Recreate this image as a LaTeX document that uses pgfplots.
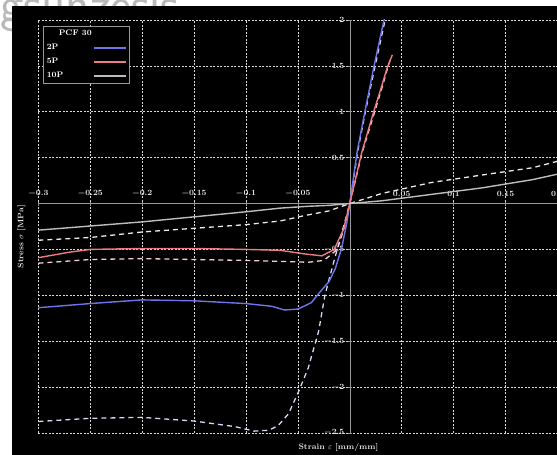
\documentclass[border=0pt]{standalone}
\usepackage{pgfplots}
\pgfplotsset{compat=1.18}
\definecolor{bl}{RGB}{112,116,235}
\definecolor{bld}{RGB}{215,215,245}
\definecolor{rd}{RGB}{238,122,132}
\definecolor{rdd}{RGB}{246,205,208}
\definecolor{gy}{RGB}{185,192,185}
\definecolor{gyd}{RGB}{235,235,235}
\begin{document}
\begin{tikzpicture}[x=1pt,y=1pt]
\useasboundingbox (0,0) rectangle (557,455);
\fill[white] (0,0) rectangle (557,455);
\begin{scope}
\clip (0,0) rectangle (557,455);
\node[anchor=base west, inner sep=0, text=gray!55, font=\sffamily\fontsize{50}{50}\selectfont] at (0,433) {gsunzesis};
\end{scope}
\fill[black] (12,0) rectangle (557,449);
\begin{axis}[
  at={(37,24)}, anchor=south west, scale only axis,
  width=519pt, height=413pt,
  xmin=-0.3, xmax=0.2, ymin=-2.5, ymax=2,
  axis lines=middle,
  xtick={-0.3,-0.25,-0.2,-0.15,-0.1,-0.05,0.05,0.1,0.15,0.2},
  xticklabels={$-0.3$,$-0.25$,$-0.2$,$-0.15$,$-0.1$,$-0.05$,$0.05$,$0.1$,$0.15$,$0.2$},
  ytick={-2.5,-2,-1.5,-1,-0.5,0.5,1,1.5,2},
  yticklabels={$-2.5$,$-2$,$-1.5$,$-1$,$-0.5$,$0.5$,$1$,$1.5$,$2$},
  minor x tick num=4, minor y tick num=4,
  grid=major,
  grid style={white!85!black, line width=0.6pt, dash pattern=on 2pt off 1.5pt},
  axis line style={gray!80, line width=0.6pt, -},
  tick style={gray!85, line width=0.5pt},
  major tick length=4pt, minor tick length=2.5pt,
  ticklabel style={font=\footnotesize\boldmath, text=white!90!black},
  xticklabel style={anchor=south, yshift=5pt},
  xlabel={Strain $\varepsilon$ [mm/mm]},
  ylabel={Stress $\sigma$ [MPa]},
  xlabel style={at={(axis description cs:0.578,-0.036)}, anchor=center, font=\footnotesize\bfseries, text=white!90!black},
  ylabel style={at={(axis description cs:-0.033,0.475)}, anchor=center, rotate=90, font=\footnotesize\bfseries, text=white!90!black},
  legend style={at={(axis description cs:0.008,0.985)}, anchor=north west, fill=black, draw=gray!80, text=white, font=\footnotesize\bfseries, inner sep=2pt, row sep=3pt},
  legend cell align=left,
  legend plot pos=right,
  legend image code/.code={\draw[line width=1.4pt,#1] (0pt,0pt) -- (32pt,0pt);},
  clip=true,
]
\addlegendimage{empty legend}
\addlegendentry{\hspace{12pt}PCF 30}

% grey dashed
\addplot[gyd, line width=1.3pt, dash pattern=on 5pt off 4pt, forget plot] coordinates {
(-0.3,-0.40) (-0.25,-0.37) (-0.2,-0.31) (-0.15,-0.27) (-0.1,-0.23) (-0.067,-0.19) (-0.043,-0.13) (-0.02,-0.08) (0,0)
(0.031,0.11) (0.079,0.23) (0.127,0.31) (0.176,0.39) (0.2,0.46)};
% red dashed
\addplot[rdd, line width=1.3pt, dash pattern=on 5pt off 4pt, forget plot] coordinates {
(-0.3,-0.65) (-0.25,-0.61) (-0.2,-0.60) (-0.15,-0.61) (-0.1,-0.62) (-0.067,-0.63) (-0.04,-0.64) (-0.025,-0.62) (-0.012,-0.5) (-0.005,-0.25) (0,0)
(0.012,0.56) (0.024,1.0) (0.032,1.3) (0.037,1.5) (0.040,1.6)};
% blue dashed
\addplot[bld, line width=1.3pt, dash pattern=on 5pt off 4pt, forget plot] coordinates {
(-0.3,-2.375) (-0.25,-2.34) (-0.2,-2.33) (-0.15,-2.37) (-0.111,-2.43) (-0.092,-2.48) (-0.078,-2.47) (-0.069,-2.42) (-0.059,-2.29) (-0.049,-2.04) (-0.04,-1.79) (-0.03,-1.39) (-0.024,-1.0) (-0.017,-0.7) (-0.008,-0.33) (0,0)
(0.0075,0.56) (0.015,1.0) (0.024,1.48) (0.034,2.0) (0.035,2.05)};

% blue solid
\addplot[color=bl, line width=1.4pt] coordinates {
(-0.3,-1.135) (-0.25,-1.09) (-0.2,-1.05) (-0.15,-1.06) (-0.1,-1.09) (-0.075,-1.12) (-0.063,-1.16) (-0.05,-1.15) (-0.037,-1.08) (-0.027,-0.94) (-0.02,-0.85) (-0.014,-0.71) (-0.008,-0.49) (-0.003,-0.22) (0,0)
(0.007,0.56) (0.0145,1.0) (0.023,1.48) (0.033,2.0) (0.034,2.05)};
\addlegendentry{2P}
% red solid
\addplot[color=rd, line width=1.4pt] coordinates {
(-0.3,-0.59) (-0.27,-0.53) (-0.25,-0.5) (-0.2,-0.49) (-0.15,-0.49) (-0.1,-0.5) (-0.067,-0.51) (-0.043,-0.55) (-0.027,-0.57) (-0.015,-0.5) (-0.006,-0.28) (0,0)
(0.0116,0.56) (0.023,1.0) (0.031,1.29) (0.036,1.48) (0.041,1.62)};
\addlegendentry{5P}
% grey solid
\addplot[color=gy, line width=1.4pt] coordinates {
(-0.3,-0.29) (-0.2,-0.2) (-0.1,-0.09) (-0.067,-0.05) (-0.04,-0.03) (-0.02,-0.02) (0,0)
(0.031,0.03) (0.079,0.1) (0.127,0.17) (0.176,0.26) (0.2,0.32)};
\addlegendentry{10P}
\end{axis}
\end{tikzpicture}
\end{document}
